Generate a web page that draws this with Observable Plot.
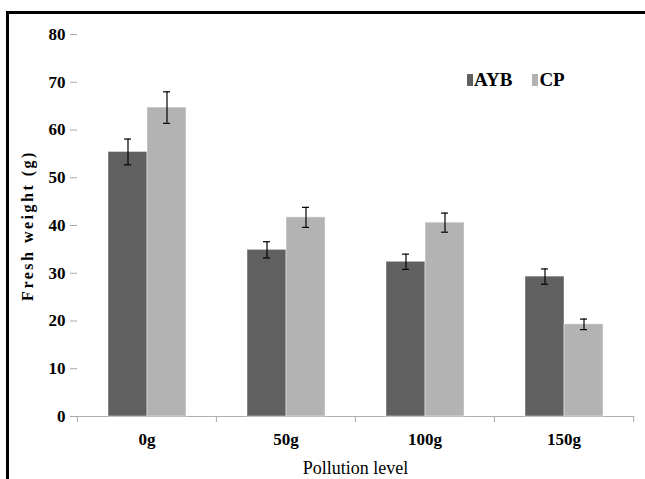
<!DOCTYPE html>
<html>
<head>
<meta charset="utf-8">
<script src="https://cdn.jsdelivr.net/npm/d3@7"></script>
<script src="https://cdn.jsdelivr.net/npm/@observablehq/plot@0.6"></script>
<style>
  html, body { margin: 0; padding: 0; background: #fff; }
  #wrap { position: relative; width: 645px; height: 479px; overflow: hidden; }
  #wrap svg.plot { position: absolute; left: 0; top: 0; }
  #wrap svg text { font-family: 'Liberation Serif', 'Times New Roman', serif; }
  #frame { position: absolute; left: 6px; top: 11px; width: 700px; height: 500px;
           border-top: 3px solid #000; border-left: 3px solid #000; pointer-events: none; }
  #legend { position: absolute; left: 467px; top: 69px; display: flex; align-items: center;
            font-family: 'Liberation Serif', 'Times New Roman', serif; font-size: 19px; font-weight: bold; color: #000; }
  #legend .item { display: inline-flex; align-items: center; margin-right: 20px; }
  #legend .sw { display: inline-block; width: 6px; height: 12px; margin-right: 1px; }
</style>
</head>
<body>
<div id="wrap"><div id="frame"></div><div id="legend"></div></div>
<script>
const categories = ["0g", "50g", "100g", "150g"];
const series = ["AYB", "CP"];
const ayb = [55.4, 34.9, 32.4, 29.3];
const aybErr = [2.7, 1.7, 1.6, 1.6];
const cp = [64.7, 41.7, 40.6, 19.3];
const cpErr = [3.3, 2.1, 2.0, 1.1];
const yTicks = [0, 10, 20, 30, 40, 50, 60, 70, 80];
const colors = ["#606060", "#b3b3b3"];

const data = [];
categories.forEach((c, i) => {
  data.push({cat: c, s: "AYB", v: ayb[i], e: aybErr[i]});
  data.push({cat: c, s: "CP", v: cp[i], e: cpErr[i]});
});

const W = 645, H = 479;
const mL = 76, mR = 12;
const half = (W - mL - mR) / categories.length / 2;
const font = "Liberation Serif, Times New Roman, serif";

const plot = Plot.plot({
  width: W, height: H,
  marginLeft: mL, marginRight: mR, marginTop: 34, marginBottom: 63,
  style: {fontFamily: font, fontSize: "16px", color: "#000", background: "transparent", overflow: "visible"},
  fx: {domain: categories, padding: 0, label: null},
  x: {domain: series, paddingOuter: 0.75, paddingInner: 0, axis: null},
  y: {domain: [0, 80]},
  color: {domain: series, range: colors},
  marks: [
    Plot.ruleY([0], {stroke: "#b0b0b0", strokeWidth: 1}),
    Plot.barY(data, {fx: "cat", x: "s", y: "v", fill: "s", stroke: "#ffffff", strokeOpacity: 0.45, strokeWidth: 1}),
    Plot.ruleX(data, {fx: "cat", x: "s", y1: d => d.v - d.e, y2: d => d.v + d.e, stroke: "#000", strokeWidth: 1.2}),
    Plot.tickY(data, {fx: "cat", x: "s", y: d => d.v - d.e, stroke: "#000", strokeWidth: 1.2, insetLeft: 16, insetRight: 16}),
    Plot.tickY(data, {fx: "cat", x: "s", y: d => d.v + d.e, stroke: "#000", strokeWidth: 1.2, insetLeft: 16, insetRight: 16}),
    Plot.axisY({ticks: yTicks, tickSize: 7, tickPadding: 5, stroke: "#a8a8a8", line: true,
      fontWeight: "bold", fontSize: 17, label: "Fresh weight (g)", labelArrow: "none", labelAnchor: "center", labelOffset: 56}),
    Plot.axisFx({anchor: "bottom", tickSize: 0, tickPadding: 16, fontWeight: "bold", fontSize: 17,
      label: "Pollution level", labelAnchor: "center", labelOffset: 57}),
    Plot.axisFx({anchor: "bottom", tickSize: 6, tickFormat: () => "", dx: -half, stroke: "#a8a8a8", label: null}),
    Plot.axisFx({anchor: "bottom", ticks: [categories[categories.length - 1]], tickSize: 6, tickFormat: () => "", dx: half, stroke: "#a8a8a8", label: null})
  ]
});
document.getElementById("wrap").prepend(plot);

d3.select(plot).selectAll("[aria-label='y-axis label'] text")
  .attr("font-family", font).attr("font-weight", "bold").attr("letter-spacing", "2.5px").attr("font-size", 16);
d3.select(plot).selectAll("[aria-label='fx-axis label'] text")
  .attr("font-family", font).attr("font-weight", "normal").attr("font-size", 18);

// legend built from the same color scale
const colorScale = plot.scale("color");
const legend = d3.select("#legend");
colorScale.domain.forEach((name, i) => {
  const item = legend.append("span").attr("class", "item");
  item.append("span").attr("class", "sw").style("background", colorScale.range[i]);
  item.append("span").text(name);
});
</script>
</body>
</html>
